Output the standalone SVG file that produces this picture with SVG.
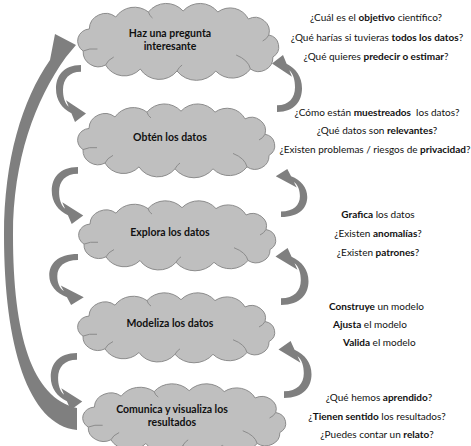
<svg xmlns="http://www.w3.org/2000/svg" xmlns:xlink="http://www.w3.org/1999/xlink" width="471" height="446" viewBox="0 0 471 446">
<style>
.cloud{fill:#bfbfbf;stroke:#8c8c8c;stroke-width:1}
.detail{fill:none;stroke:#8c8c8c;stroke-width:1}
.arr{fill:#7f7f7f}
.nt{font-family:Lato,"Liberation Sans",sans-serif;font-size:10.5px;font-weight:bold;fill:#111;text-anchor:middle}
.q{font-family:Lato,"Liberation Sans",sans-serif;font-size:10px;fill:#111}
.q .b{font-weight:bold}
.m{text-anchor:middle}
</style>
<defs>
<g id="cl">
<path class="cloud" vector-effect="non-scaling-stroke" d="M-92,10 A12,12 0 0 1 -86,-12 A16,16 0 0 1 -60,-24 A22,22 0 0 1 -28,-29 A22,22 0 0 1 6,-30 A22,22 0 0 1 40,-29 A20,20 0 0 1 70,-22 A14,14 0 0 1 90,-6 A12,12 0 0 1 94,16 A14,14 0 0 1 72,28 A22,22 0 0 1 38,30 A24,24 0 0 1 0,30 A22,22 0 0 1 -36,28 A21,21 0 0 1 -70,24 A15,15 0 0 1 -92,10 Z"/>
<path class="detail" vector-effect="non-scaling-stroke" d="M-92,10 Q-86,7 -78,8 M-70,24 Q-68,19 -62,16 M72,28 Q70,19 58,14 M90,-6 Q88,-2 84,0 M-28,-29 Q-27,-25 -24,-23 M0,30 Q2,26 5,24"/>
</g>
<path id="sa" d="M0,0 C-18,0 -25,12 -25,25 C-25,37 -19,46 -9.6,50.8 L-6,60 L5,51 L-15,37 L-12.3,43.9 C-16.5,40 -18,33 -18,26 C-18,15 -12,7 0,7 Z"/>
</defs>

<g id="connectors" class="arr">
<path id="big-arrow" d="M77,430 C28,425 4,345 4,235 C4,160 22,100 50,60 L55,34 L76,45 L66,57 C35,100 13,160 13,235 C13,335 32,398 77,408 Z"/>
<use href="#sa" xlink:href="#sa" transform="translate(81,65) scale(1,0.95)"/>
<use href="#sa" xlink:href="#sa" transform="translate(78,167) scale(1.05,0.95)"/>
<use href="#sa" xlink:href="#sa" transform="translate(78,254) scale(1.15,0.85)"/>
<use href="#sa" xlink:href="#sa" transform="translate(77,353) scale(1.05,0.95)"/>
<use href="#sa" xlink:href="#sa" transform="translate(277,112) rotate(180) scale(1,0.95)"/>
<use href="#sa" xlink:href="#sa" transform="translate(281,217) rotate(180) scale(1.05,0.8)"/>
<use href="#sa" xlink:href="#sa" transform="translate(281,305) rotate(180) scale(1.1,0.95)"/>
<use href="#sa" xlink:href="#sa" transform="translate(284,398) rotate(180) scale(1.1,0.95)"/>
</g>

<g id="n1">
<use href="#cl" xlink:href="#cl" transform="translate(177,41) scale(1.02,1)"/>
<text class="nt" x="170" y="37">Haz una pregunta</text>
<text class="nt" x="170" y="50">interesante</text>
</g>
<g id="n2">
<use href="#cl" xlink:href="#cl" transform="translate(175,140) scale(1,0.96)"/>
<text class="nt" x="170" y="141">Obtén los datos</text>
</g>
<g id="n3">
<use href="#cl" xlink:href="#cl" transform="translate(176,235) scale(1,0.91)"/>
<text class="nt" x="170" y="236">Explora los datos</text>
</g>
<g id="n4">
<use href="#cl" xlink:href="#cl" transform="translate(175,327) scale(1,0.91)"/>
<text class="nt" x="170" y="327">Modeliza los datos</text>
</g>
<g id="n5">
<use href="#cl" xlink:href="#cl" transform="translate(183,418) scale(1.03,0.91)"/>
<text class="nt" x="172" y="413">Comunica y visualiza los</text>
<text class="nt" x="172" y="426">resultados</text>
</g>

<g id="notes1" class="q m">
<text x="376" y="21">¿Cuál es el <tspan class="b">objetivo</tspan> científico?</text>
<text x="377" y="41">¿Qué harías si tuvieras <tspan class="b">todos los datos</tspan>?</text>
<text x="376" y="60">¿Qué quieres <tspan class="b">predecir o estimar</tspan>?</text>
</g>
<g id="notes2" class="q m">
<text x="377" y="116" xml:space="preserve">¿Cómo están <tspan class="b">muestreados</tspan>  los datos?</text>
<text x="377" y="134">¿Qué datos son <tspan class="b">relevantes</tspan>?</text>
<text x="375" y="153">¿Existen problemas / riesgos de <tspan class="b">privacidad</tspan>?</text>
</g>
<g id="notes3" class="q m">
<text x="378" y="218"><tspan class="b">Grafica</tspan> los datos</text>
<text x="378" y="237">¿Existen <tspan class="b">anomalías</tspan>?</text>
<text x="378" y="256">¿Existen <tspan class="b">patrones</tspan>?</text>
</g>
<g id="notes4" class="q">
<text x="329" y="310"><tspan class="b">Construye</tspan> un modelo</text>
<text x="333" y="328"><tspan class="b">Ajusta</tspan> el modelo</text>
<text x="343" y="346"><tspan class="b">Valida</tspan> el modelo</text>
</g>
<g id="notes5" class="q m">
<text x="379" y="401">¿Qué hemos <tspan class="b">aprendido</tspan>?</text>
<text x="377" y="420">¿<tspan class="b">Tienen sentido</tspan> los resultados?</text>
<text x="377" y="438">¿Puedes contar un <tspan class="b">relato</tspan>?</text>
</g>
</svg>
